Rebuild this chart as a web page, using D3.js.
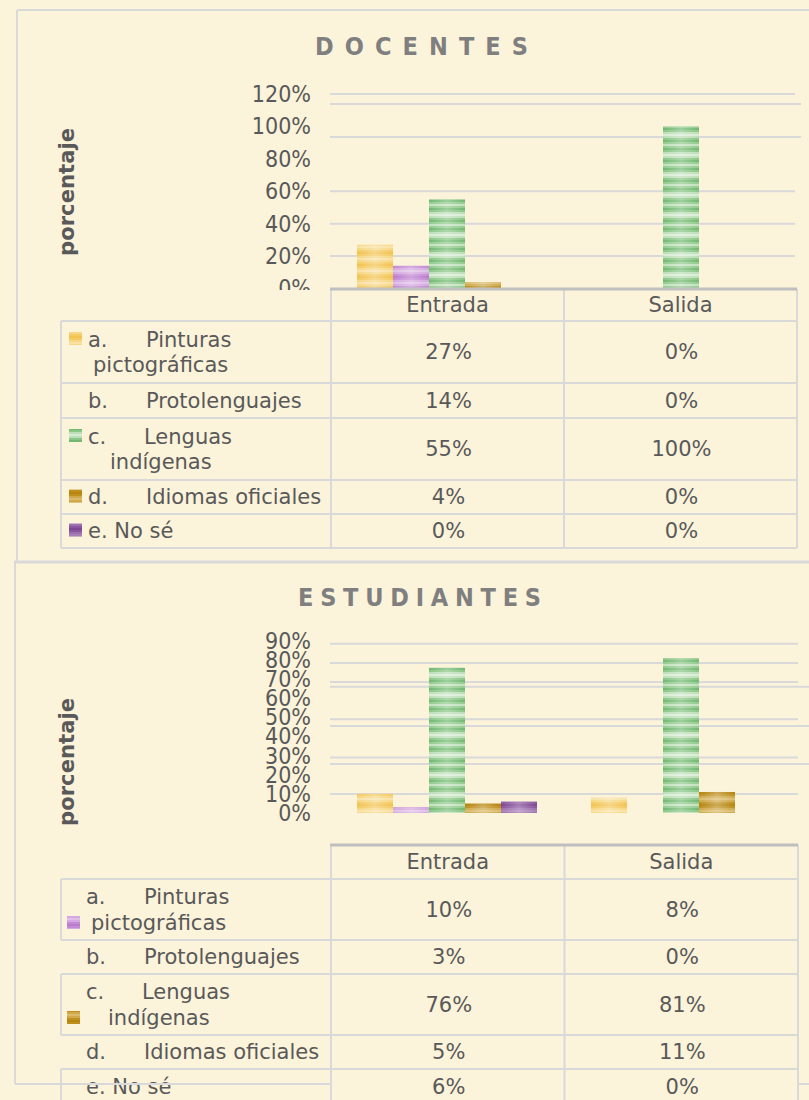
<!DOCTYPE html>
<html><head><meta charset="utf-8">
<script src="https://cdn.jsdelivr.net/npm/d3@7"></script>
<style>html,body{margin:0;padding:0;background:#FCF3DB;} svg{display:block}</style>
</head><body><svg id="chart" width="809" height="1100"></svg>
<script>
// ---------- DATA ----------
const categories = ["Entrada", "Salida"];
const seriesKeys = ["a", "b", "c", "d", "e"];
const seriesLetters = ["a.", "b.", "c.", "d.", "e."];
const seriesLine1 = ["Pinturas", "Protolenguajes", "Lenguas", "Idiomas oficiales", "No sé"];
const seriesLine2 = ["pictográficas", "", "indígenas", "", ""];

const docentesA = [27, 0];
const docentesB = [14, 0];
const docentesC = [55, 100];
const docentesD = [4, 0];
const docentesE = [0, 0];

const estudiantesA = [10, 8];
const estudiantesB = [3, 0];
const estudiantesC = [76, 81];
const estudiantesD = [5, 11];
const estudiantesE = [6, 0];

const docentesTicks = [0, 20, 40, 60, 80, 100, 120];
const estudiantesTicks = [0, 10, 20, 30, 40, 50, 60, 70, 80, 90];

// gridlines as they appear in the picture (some are displaced copies)
const docentesGrid = [20, 40, 60, 120];
const docentesGridShifted = [93.5, 113.8];
const estudiantesGrid = [10, 29, 49, 68.5, 78.5, 88.5];
const estudiantesGridShifted = [25.6, 45.5, 66];

// legend markers shown inside the data tables (as in the picture)
const docentesMarkers = ["a", null, "c", "d", "e"];
const estudiantesMarkers = ["b", null, "d", null, null];

// ---------- STYLE ----------
const stripes = {
  a: ["#f2c24e", "#f4ca62", "#f7d784", "#f9e1a4", "#f7d784", "#f4ca62"],
  b: ["#b97ccc", "#c48ad5", "#d4a8e0", "#dfbfe8", "#d4a8e0", "#c48ad5"],
  c: ["#72b872", "#93cb8f", "#c3e2be", "#93cb8f", "#72b872", "#8ac686", "#bcdfb7", "#d9edd5", "#bcdfb7", "#8ac686"],
  d: ["#b5850c", "#bf9020", "#cfa94a", "#dbbb6c", "#cfa94a", "#bf9020"],
  e: ["#7d4792", "#8a559e", "#9c6fae", "#a880b8", "#9c6fae", "#8a559e"]
};
const textColor = "#595959";
const gridColor = "#d9d9d9";
const tableFont = "DejaVu Sans, Verdana, sans-serif";

const svg = d3.select("#chart");
svg.append("rect").attr("width", 809).attr("height", 1100).attr("fill", "#FCF3DB");
const defs = svg.append("defs");
seriesKeys.forEach(k => {
  const s = stripes[k];
  const p = defs.append("pattern").attr("id", "pat-" + k)
    .attr("patternUnits", "userSpaceOnUse").attr("width", 8).attr("height", s.length * 2);
  s.forEach((c, i) => p.append("rect").attr("x", 0).attr("y", i * 2)
    .attr("width", 8).attr("height", 2).attr("fill", c));
});
const sheen = defs.append("linearGradient").attr("id", "sheen")
  .attr("x1", 0).attr("x2", 1).attr("y1", 0).attr("y2", 0);
sheen.append("stop").attr("offset", 0).attr("stop-color", "#fff").attr("stop-opacity", 0);
sheen.append("stop").attr("offset", 0.5).attr("stop-color", "#fff").attr("stop-opacity", 0.3);
sheen.append("stop").attr("offset", 1).attr("stop-color", "#fff").attr("stop-opacity", 0);
defs.append("clipPath").attr("id", "clipTop").append("rect")
  .attr("x", 0).attr("y", 0).attr("width", 330).attr("height", 290);

// ---------- FRAMES ----------
const frame = svg.append("g").attr("stroke", gridColor).attr("fill", "none");
frame.append("line").attr("x1", 17).attr("x2", 809).attr("y1", 10).attr("y2", 10).attr("stroke-width", 2);
frame.append("line").attr("x1", 17).attr("x2", 17).attr("y1", 10).attr("y2", 561).attr("stroke-width", 2);
frame.append("line").attr("x1", 14).attr("x2", 809).attr("y1", 562).attr("y2", 562).attr("stroke-width", 3);
frame.append("line").attr("x1", 15).attr("x2", 15).attr("y1", 562).attr("y2", 1084).attr("stroke-width", 2);

// ---------- CHART ----------
function drawChart(o) {
  const g = svg.append("g");
  const y = d3.scaleLinear().domain([0, o.max]).range([o.y0, o.yMax]);
  const x0 = d3.scaleBand().domain(categories).range([330, 798]);
  const x1 = d3.scaleBand().domain(seriesKeys).range([27, 207]);

  g.selectAll(".grid").data(o.grid).join("line")
    .attr("x1", 330).attr("x2", o.gridEnd)
    .attr("y1", d => y(d)).attr("y2", d => y(d))
    .attr("stroke", gridColor).attr("stroke-width", 2);
  g.selectAll(".gridS").data(o.gridShifted).join("line")
    .attr("x1", 330).attr("x2", o.gridShiftedEnd)
    .attr("y1", d => y(d)).attr("y2", d => y(d))
    .attr("stroke", gridColor).attr("stroke-width", 2);

  const bars = [];
  categories.forEach((c, ci) => seriesKeys.forEach((k, si) => {
    bars.push({ cat: c, key: k, v: o.values[si][ci] });
  }));
  const bg = g.append("g");
  bg.selectAll("rect.bar").data(bars.filter(d => d.v > 0)).join("rect")
    .attr("class", "bar")
    .attr("x", d => x0(d.cat) + x1(d.key)).attr("width", x1.bandwidth())
    .attr("y", d => y(d.v)).attr("height", d => y(0) - y(d.v))
    .attr("fill", d => "url(#pat-" + d.key + ")");
  bg.selectAll("rect.sheen").data(bars.filter(d => d.v > 0)).join("rect")
    .attr("class", "sheen")
    .attr("x", d => x0(d.cat) + x1(d.key)).attr("width", x1.bandwidth())
    .attr("y", d => y(d.v)).attr("height", d => y(0) - y(d.v))
    .attr("fill", "url(#sheen)");

  const axis = d3.axisLeft(y).tickValues(o.ticks).tickFormat(d => d + "%").tickSize(0).tickPadding(0);
  const outer = g.append("g");
  if (o.clip) outer.attr("clip-path", "url(#" + o.clip + ")");
  const ag = outer.append("g").attr("transform", "translate(311,0)").call(axis);
  ag.select(".domain").remove();
  ag.selectAll("text").attr("font-family", "DejaVu Sans Condensed, DejaVu Sans, sans-serif")
    .attr("font-size", 23).attr("fill", textColor);

  g.append("text").attr("x", o.titleX).attr("y", o.titleY)
    .attr("text-anchor", "middle").attr("dominant-baseline", "central")
    .attr("font-family", "DejaVu Sans Condensed, DejaVu Sans, sans-serif")
    .attr("font-weight", "bold").attr("font-size", 25).attr("fill", "#7f7f7f")
    .attr("textLength", o.titleW).attr("lengthAdjust", "spacing")
    .text(o.title);

  g.append("text").attr("transform", `translate(67,${o.labelY}) rotate(-90)`)
    .attr("text-anchor", "middle").attr("dominant-baseline", "central")
    .attr("font-family", tableFont).attr("font-weight", "bold")
    .attr("font-size", 21).attr("fill", textColor)
    .attr("textLength", 128).attr("lengthAdjust", "spacingAndGlyphs")
    .text("porcentaje");
}

// ---------- TABLE ----------
function drawTable(o) {
  const g = svg.append("g").attr("font-family", tableFont).attr("font-size", 21).attr("fill", textColor);
  const x0 = d3.scaleBand().domain(categories).range([331, o.right]);
  const b = o.bounds;
  const last = Math.min(b[b.length - 1], 1100);
  const lines = g.append("g").attr("stroke", gridColor).attr("stroke-width", 2);
  [331, x0("Salida"), o.right].forEach(x =>
    lines.append("line").attr("x1", x).attr("x2", x).attr("y1", o.top).attr("y2", last));
  b.forEach(yv => lines.append("line").attr("x1", 61).attr("x2", o.right).attr("y1", yv).attr("y2", yv));
  seriesKeys.forEach((k, i) => {
    if (o.leftBorder[i]) lines.append("line").attr("x1", 61).attr("x2", 61)
      .attr("y1", b[i]).attr("y2", Math.min(b[i + 1], 1100));
  });
  g.append("line").attr("x1", 330).attr("x2", o.right).attr("y1", o.top).attr("y2", o.top)
    .attr("stroke", "#bfbfbf").attr("stroke-width", 3);
  g.selectAll("text.hdr").data(categories).join("text").attr("class", "hdr")
    .attr("x", d => x0(d) + x0.bandwidth() / 2).attr("y", (o.top + b[0]) / 2)
    .attr("text-anchor", "middle").attr("dominant-baseline", "central").text(d => d);
  seriesKeys.forEach((k, i) => {
    const cy = (b[i] + b[i + 1]) / 2;
    const two = seriesLine2[i] !== "";
    const l1 = two ? cy - 12.5 : cy;
    const l2 = cy + 13;
    const t = (x, yv, s) => g.append("text").attr("x", x).attr("y", yv)
      .attr("dominant-baseline", "central").text(s);
    if (k === "e") {
      t(o.lx, l1, seriesLetters[i] + " " + seriesLine1[i]);
    } else {
      t(o.lx, l1, seriesLetters[i]);
      t(o.lx + (k === "c" ? 56 : 58), l1, seriesLine1[i]);
    }
    if (two) t(o.lx + (k === "a" ? 5 : 22), l2, seriesLine2[i]);
    const m = o.markers[i];
    if (m) {
      const my = o.markerOnLine2 ? l2 : l1 - 1;
      g.append("rect").attr("x", o.mx).attr("y", my - 6.5).attr("width", 13).attr("height", 13)
        .attr("fill", "url(#pat-" + m + ")");
    }
    categories.forEach((c, ci) => {
      g.append("text").attr("x", x0(c) + x0.bandwidth() / 2 + 1).attr("y", cy)
        .attr("text-anchor", "middle").attr("dominant-baseline", "central")
        .text(o.values[i][ci] + "%");
    });
  });
}

// ---------- DOCENTES ----------
const docentesValues = [docentesA, docentesB, docentesC, docentesD, docentesE];
drawChart({
  title: "DOCENTES", titleX: 421.5, titleY: 46, titleW: 213, labelY: 192,
  max: 120, y0: 288.5, yMax: 94, ticks: docentesTicks, clip: "clipTop",
  grid: docentesGrid, gridShifted: docentesGridShifted, gridEnd: 795, gridShiftedEnd: 801,
  values: docentesValues
});
drawTable({
  top: 289, bounds: [321, 383, 418, 480, 514, 548], right: 797,
  leftBorder: [true, true, true, true, true], lx: 88, mx: 69,
  markers: docentesMarkers, markerOnLine2: false, values: docentesValues
});

// ---------- ESTUDIANTES ----------
const estudiantesValues = [estudiantesA, estudiantesB, estudiantesC, estudiantesD, estudiantesE];
drawChart({
  title: "ESTUDIANTES", titleX: 419.5, titleY: 597, titleW: 243, labelY: 762,
  max: 90, y0: 813, yMax: 641, ticks: estudiantesTicks, clip: null,
  grid: estudiantesGrid, gridShifted: estudiantesGridShifted, gridEnd: 798, gridShiftedEnd: 809,
  values: estudiantesValues
});
drawTable({
  top: 845, bounds: [879, 940, 974, 1035, 1069, 1104], right: 798,
  leftBorder: [true, false, true, false, true], lx: 86, mx: 67,
  markers: estudiantesMarkers, markerOnLine2: true, values: estudiantesValues
});
svg.append("line").attr("x1", 15).attr("x2", 330).attr("y1", 1084).attr("y2", 1084)
  .attr("stroke", gridColor).attr("stroke-width", 2);
svg.append("line").attr("x1", 798).attr("x2", 809).attr("y1", 1084).attr("y2", 1084)
  .attr("stroke", gridColor).attr("stroke-width", 2);
</script>
</body></html>
